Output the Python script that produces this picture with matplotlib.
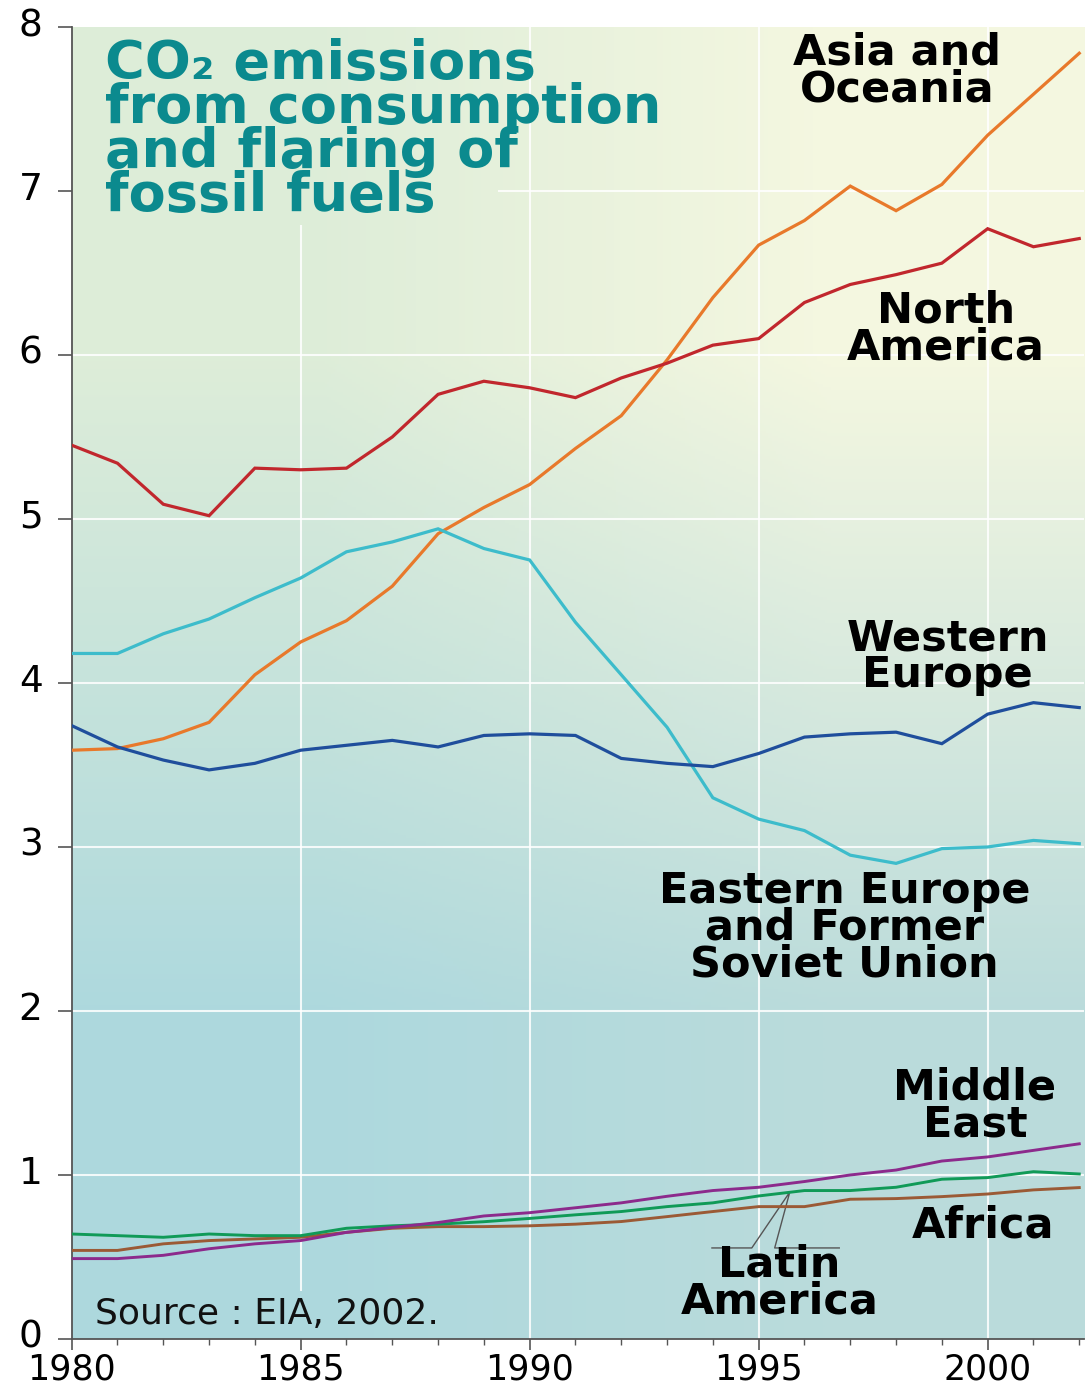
import numpy as np
import matplotlib
matplotlib.use("Agg")
import matplotlib.pyplot as plt
from matplotlib.transforms import ScaledTranslation

years = list(range(1980, 2003))

asia_oceania = [3.59, 3.60, 3.66, 3.76, 4.05, 4.25, 4.38, 4.59, 4.91, 5.07, 5.21, 5.43,
                5.63, 5.97, 6.35, 6.67, 6.82, 7.03, 6.88, 7.04, 7.34, 7.59, 7.84]
north_america = [5.45, 5.34, 5.09, 5.02, 5.31, 5.30, 5.31, 5.50, 5.76, 5.84, 5.80, 5.74,
                 5.86, 5.95, 6.06, 6.10, 6.32, 6.43, 6.49, 6.56, 6.77, 6.66, 6.71]
eastern_europe = [4.18, 4.18, 4.30, 4.39, 4.52, 4.64, 4.80, 4.86, 4.94, 4.82, 4.75, 4.37,
                  4.05, 3.73, 3.30, 3.17, 3.10, 2.95, 2.90, 2.99, 3.00, 3.04, 3.02]
western_europe = [3.74, 3.61, 3.53, 3.47, 3.51, 3.59, 3.62, 3.65, 3.61, 3.68, 3.69, 3.68,
                  3.54, 3.51, 3.49, 3.57, 3.67, 3.69, 3.70, 3.63, 3.81, 3.88, 3.85]
middle_east = [0.49, 0.49, 0.51, 0.55, 0.58, 0.60, 0.65, 0.68, 0.71, 0.75, 0.77, 0.80,
               0.83, 0.87, 0.905, 0.925, 0.96, 1.00, 1.03, 1.085, 1.11, 1.15, 1.19]
latin_america = [0.64, 0.63, 0.62, 0.64, 0.63, 0.63, 0.675, 0.69, 0.70, 0.715, 0.735, 0.757,
                 0.777, 0.807, 0.83, 0.872, 0.905, 0.905, 0.925, 0.974, 0.984, 1.02, 1.006]
africa = [0.54, 0.54, 0.58, 0.60, 0.61, 0.62, 0.65, 0.675, 0.685, 0.685, 0.69, 0.70,
          0.716, 0.746, 0.777, 0.807, 0.807, 0.852, 0.856, 0.868, 0.884, 0.909, 0.923]

y_ticks = [0, 1, 2, 3, 4, 5, 6, 7, 8]
x_major = [1980, 1985, 1990, 1995, 2000]

fig = plt.figure(figsize=(10.86, 13.92), dpi=100)
ax = fig.add_axes([0.066, 0.0381, 0.932, 0.9425])
ax.set_xlim(1980, 2002.1)
ax.set_ylim(0, 8)

# background gradient: pale yellow top right -> light blue bottom left
corners = np.array([[[0.68, 0.85, 0.87], [0.73, 0.86, 0.86]],
                    [[0.87, 0.93, 0.85], [0.96, 0.97, 0.88]]])
ax.imshow(corners, extent=[1980, 2002.1, 0, 8], origin="lower", aspect="auto",
          interpolation="bilinear", zorder=0)

# white grid, interrupted behind the title and source note
grid_kw = dict(color="white", lw=1.5, alpha=0.85, zorder=1)
for v in y_ticks[1:7]:
    ax.hlines(v, 1980, 2002.1, **grid_kw)
ax.hlines(7, 1989.3, 2002.1, **grid_kw)
ax.vlines(1985, 0.29, 6.79, **grid_kw)
for v in x_major[2:]:
    ax.vlines(v, 0, 8, **grid_kw)

series = [
    (asia_oceania, "#e8792b"),
    (north_america, "#c1272d"),
    (eastern_europe, "#3dbccb"),
    (western_europe, "#1f4e9c"),
    (africa, "#9b5a35"),
    (latin_america, "#109a57"),
    (middle_east, "#8c2a8c"),
]
for vals, col in series:
    lw = 2.3 if max(vals) > 2 else 2.1
    ax.plot(years, vals, color=col, lw=lw, zorder=3, solid_joinstyle="miter")

# leader line for Latin America
ax.plot([1993.98, 1994.85, 1995.68, 1995.35, 1996.76],
        [0.555, 0.555, 0.896, 0.555, 0.555], color="#555555", lw=1.0, zorder=2)

lab = dict(fontsize=31, fontweight="bold", color="black", ha="center", va="center",
           linespacing=0.84, zorder=4)
ax.text(1998.02, 7.73, "Asia and\nOceania", **lab)
ax.text(1999.09, 6.16, "North\nAmerica", **lab)
ax.text(1999.13, 4.16, "Western\nEurope", **lab)
ax.text(1996.88, 2.51, "Eastern Europe\nand Former\nSoviet Union", **lab)
ax.text(1999.72, 1.42, "Middle\nEast", **lab)
ax.text(1999.9, 0.69, "Africa", **lab)
ax.text(1995.45, 0.34, "Latin\nAmerica", **lab)

ax.text(1980.73, 7.93, "CO\u2082 emissions\nfrom consumption\nand flaring of\nfossil fuels",
        fontsize=39, fontweight="bold", color="#0b8a8e", ha="left", va="top",
        linespacing=0.8, zorder=4)

ax.text(1980.51, 0.15, "Source : EIA, 2002.", fontsize=26, color="#111111",
        ha="left", va="center", zorder=4)

ax.set_yticks(y_ticks)
ax.set_xticks(x_major)
ax.set_xticks(years, minor=True)
ax.tick_params(axis="y", length=10, width=1.2, color="#555555", labelsize=27, pad=11)
ax.tick_params(axis="x", which="major", length=8, width=1.2, color="#555555",
               labelsize=25, pad=2)
ax.tick_params(axis="x", which="minor", length=4, width=1.0, color="#555555")
# y labels sit a little above their ticks in the original
shift = ScaledTranslation(0, 5 / 100, fig.dpi_scale_trans)
for t in ax.get_yticklabels():
    t.set_transform(t.get_transform() + shift)
for s in ["top", "right"]:
    ax.spines[s].set_visible(False)
for s in ["left", "bottom"]:
    ax.spines[s].set_color("#555555")
    ax.spines[s].set_linewidth(1.3)

fig.savefig("out.png", dpi=100)
